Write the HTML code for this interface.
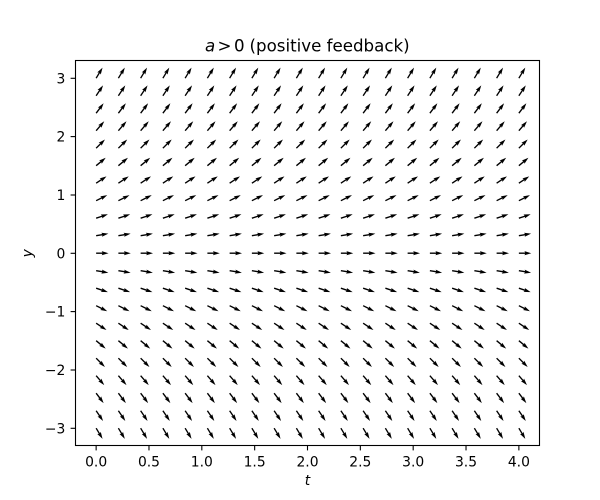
<!DOCTYPE html>
<html>
<head>
<meta charset="utf-8">
<style>
html,body{margin:0;padding:0;background:#fff;}
svg{display:block;}
text{font-family:"DejaVu Sans","Liberation Sans",sans-serif;fill:#000;}
</style>
</head>
<body>
<svg width="600" height="500" viewBox="0 0 600 500" xmlns="http://www.w3.org/2000/svg">
<rect x="0" y="0" width="600" height="500" fill="#fff"/>
<defs>
<path id="h" d="M0,-0.681L6.27,-0.681L5.59,-2.043L12.4,0L5.59,2.043L6.27,0.681L0,0.681Z" fill="#000"/>
<g id="col">
<use href="#h" transform="translate(0,78.2) rotate(-58.87)"/>
<use href="#h" transform="translate(0,95.7) rotate(-56.14)"/>
<use href="#h" transform="translate(0,113.2) rotate(-52.95)"/>
<use href="#h" transform="translate(0,130.7) rotate(-49.21)"/>
<use href="#h" transform="translate(0,148.2) rotate(-44.82)"/>
<use href="#h" transform="translate(0,165.7) rotate(-39.62)"/>
<use href="#h" transform="translate(0,183.2) rotate(-33.51)"/>
<use href="#h" transform="translate(0,200.7) rotate(-26.42)"/>
<use href="#h" transform="translate(0,218.2) rotate(-18.32)"/>
<use href="#h" transform="translate(0,235.7) rotate(-9.40)"/>
<use href="#h" transform="translate(0,253.2)"/>
<use href="#h" transform="translate(0,270.7) rotate(9.40)"/>
<use href="#h" transform="translate(0,288.2) rotate(18.32)"/>
<use href="#h" transform="translate(0,305.7) rotate(26.42)"/>
<use href="#h" transform="translate(0,323.2) rotate(33.51)"/>
<use href="#h" transform="translate(0,340.7) rotate(39.62)"/>
<use href="#h" transform="translate(0,358.2) rotate(44.82)"/>
<use href="#h" transform="translate(0,375.7) rotate(49.21)"/>
<use href="#h" transform="translate(0,393.2) rotate(52.95)"/>
<use href="#h" transform="translate(0,410.7) rotate(56.14)"/>
<use href="#h" transform="translate(0,428.2) rotate(58.87)"/>
</g>
</defs>

<!-- quiver arrows -->
<use href="#col" x="96.14"/>
<use href="#col" x="118.39"/>
<use href="#col" x="140.64"/>
<use href="#col" x="162.89"/>
<use href="#col" x="185.14"/>
<use href="#col" x="207.39"/>
<use href="#col" x="229.63"/>
<use href="#col" x="251.88"/>
<use href="#col" x="274.13"/>
<use href="#col" x="296.38"/>
<use href="#col" x="318.63"/>
<use href="#col" x="340.88"/>
<use href="#col" x="363.13"/>
<use href="#col" x="385.38"/>
<use href="#col" x="407.63"/>
<use href="#col" x="429.88"/>
<use href="#col" x="452.12"/>
<use href="#col" x="474.37"/>
<use href="#col" x="496.62"/>
<use href="#col" x="518.87"/>

<!-- axes frame -->
<rect x="75.5" y="60.5" width="464" height="385" fill="none" stroke="#000" stroke-width="1.1"/>

<!-- x ticks -->
<g stroke="#000" stroke-width="1.1">
<line x1="96.14" y1="445.5" x2="96.14" y2="450.4"/>
<line x1="148.98" y1="445.5" x2="148.98" y2="450.4"/>
<line x1="201.82" y1="445.5" x2="201.82" y2="450.4"/>
<line x1="254.66" y1="445.5" x2="254.66" y2="450.4"/>
<line x1="307.5" y1="445.5" x2="307.5" y2="450.4"/>
<line x1="360.34" y1="445.5" x2="360.34" y2="450.4"/>
<line x1="413.18" y1="445.5" x2="413.18" y2="450.4"/>
<line x1="466.02" y1="445.5" x2="466.02" y2="450.4"/>
<line x1="518.87" y1="445.5" x2="518.87" y2="450.4"/>
</g>
<g font-size="13.89" text-anchor="middle">
<text x="96.14" y="466.5">0.0</text>
<text x="148.98" y="466.5">0.5</text>
<text x="201.82" y="466.5">1.0</text>
<text x="254.66" y="466.5">1.5</text>
<text x="307.5" y="466.5">2.0</text>
<text x="360.34" y="466.5">2.5</text>
<text x="413.18" y="466.5">3.0</text>
<text x="466.02" y="466.5">3.5</text>
<text x="518.87" y="466.5">4.0</text>
</g>

<!-- y ticks -->
<g stroke="#000" stroke-width="1.1">
<line x1="70.6" y1="78.3" x2="75.5" y2="78.3"/>
<line x1="70.6" y1="136.6" x2="75.5" y2="136.6"/>
<line x1="70.6" y1="195.0" x2="75.5" y2="195.0"/>
<line x1="70.6" y1="253.3" x2="75.5" y2="253.3"/>
<line x1="70.6" y1="311.6" x2="75.5" y2="311.6"/>
<line x1="70.6" y1="370.0" x2="75.5" y2="370.0"/>
<line x1="70.6" y1="428.3" x2="75.5" y2="428.3"/>
</g>
<g font-size="13.89" text-anchor="end">
<text x="65.3" y="83.3">3</text>
<text x="65.3" y="141.6">2</text>
<text x="65.3" y="200.0">1</text>
<text x="65.3" y="258.3">0</text>
<text x="65.3" y="316.6">−1</text>
<text x="65.3" y="375.0">−2</text>
<text x="65.3" y="433.3">−3</text>
</g>

<!-- axis labels -->
<text x="307.5" y="485" font-size="13.89" font-style="italic" text-anchor="middle">t</text>
<text x="0" y="0" font-size="13.89" font-style="italic" text-anchor="middle" transform="translate(32,253.3) rotate(-90)">y</text>

<!-- title -->
<g font-size="16.67">
<text x="205" y="51.5" font-style="italic">a</text>
<text x="217.5" y="51.5">&gt;</text>
<text x="234" y="51.5">0</text>
<text x="249.5" y="51.5">(positive feedback)</text>
</g>
</svg>
</body>
</html>
